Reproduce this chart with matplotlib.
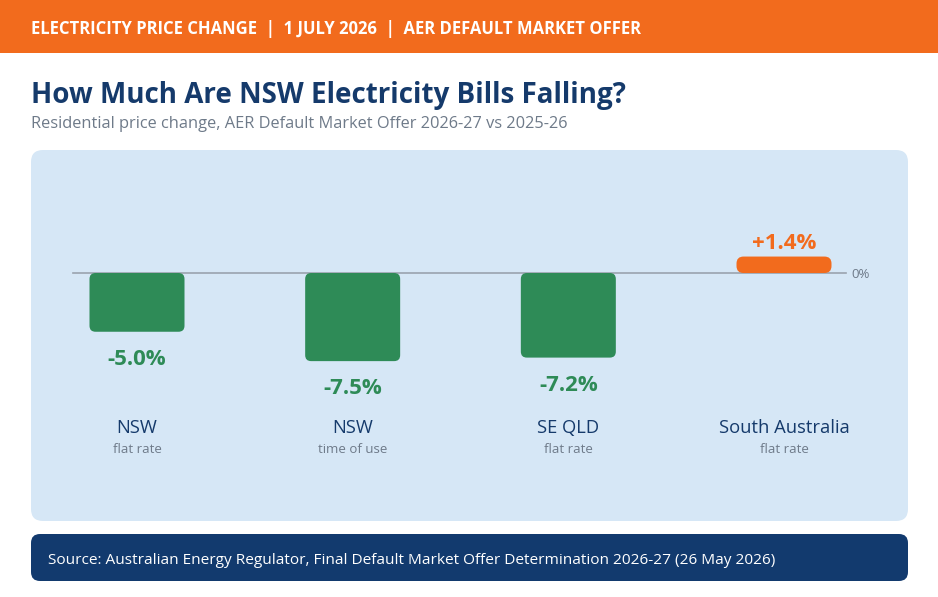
import numpy as np
import matplotlib
matplotlib.use('Agg')
import matplotlib.pyplot as plt
from matplotlib.patches import FancyBboxPatch, Rectangle
import matplotlib.transforms as mtransforms

# data
regions = ['NSW', 'NSW', 'SE QLD', 'South Australia']
tariffs = ['flat rate', 'time of use', 'flat rate', 'flat rate']
change = [-5.0, -7.5, -7.2, 1.4]
labels = ['-5.0%', '-7.5%', '-7.2%', '+1.4%']

ORANGE = '#F26B1D'
NAVY = '#153A6B'
GREEN = '#2E8B57'
PANEL = '#D6E7F6'
GREY = '#6E7A89'
LINE = '#9AA3AE'

plt.rcParams['font.family'] = ['Open Sans', 'DejaVu Sans']

W, H = 938, 597
fig = plt.figure(figsize=(W / 100, H / 100), dpi=100)
fig.patch.set_facecolor('white')

# background layer in pixel units
bg = fig.add_axes([0, 0, 1, 1], zorder=0)
bg.set_xlim(0, W)
bg.set_ylim(H, 0)
bg.axis('off')

bg.add_patch(Rectangle((0, 0), W, 53, color=ORANGE, lw=0))
bg.text(31, 29, 'ELECTRICITY PRICE CHANGE  |  1 JULY 2026  |  AER DEFAULT MARKET OFFER',
        color='white', fontsize=12, fontweight='bold', va='center', ha='left')
bg.text(31, 96, 'How Much Are NSW Electricity Bills Falling?', color=NAVY,
        fontsize=20, fontweight='bold', va='center', ha='left')
bg.text(31, 124, 'Residential price change, AER Default Market Offer 2026-27 vs 2025-26',
        color=GREY, fontsize=11.8, va='center', ha='left')

bg.add_patch(FancyBboxPatch((31, 150), 877, 371, boxstyle='round,pad=0,rounding_size=12',
                            fc=PANEL, ec='none'))
bg.add_patch(FancyBboxPatch((31, 534), 877, 47, boxstyle='round,pad=0,rounding_size=9',
                            fc='#123A6E', ec='none'))
bg.text(48, 560, 'Source: Australian Energy Regulator, Final Default Market Offer Determination 2026-27 (26 May 2026)',
        color='white', fontsize=11.05, va='center', ha='left')

# chart layer
px_x = 215.67   # px per category
px_y = 11.75    # px per percent
ax = fig.add_axes([31 / W, (H - 521) / H, 877 / W, 371 / H], zorder=1)
ax.patch.set_alpha(0)
ax.axis('off')
ax.set_xlim(-(137 - 31) / px_x, 3 + (908 - 784) / px_x)
ax.set_ylim(-(521 - 273) / px_y, (273 - 150) / px_y)

x = np.arange(len(change))
ax.plot([-(137 - 73) / px_x, 3 + (846 - 784) / px_x], [0, 0], color=LINE, lw=1.2, zorder=1)
ax.text(3 + (851 - 784) / px_x, -0.1, '0%', color=GREY, fontsize=9.5, va='center', ha='left')

bw = 95 / px_x
for xi, v, lab in zip(x, change, labels):
    col = GREEN if v < 0 else ORANGE
    r = 6 / px_x if v < 0 else 7 / px_x
    ax.add_patch(FancyBboxPatch((xi - bw / 2, min(0, v)), bw, abs(v),
                                boxstyle='round,pad=0,rounding_size=%f' % r,
                                mutation_aspect=px_x / px_y, fc=col, ec='none', zorder=2))
    if v < 0:
        ax.annotate(lab, (xi, v), xytext=(0, -20), textcoords='offset points',
                    ha='center', va='center', color=col, fontsize=16, fontweight='bold')
    else:
        ax.annotate(lab, (xi, v), xytext=(0, 9.5), textcoords='offset points',
                    ha='center', va='center', color=col, fontsize=16, fontweight='bold')

trans = mtransforms.blended_transform_factory(ax.transData, ax.transAxes)
for xi, reg, tar in zip(x, regions, tariffs):
    ax.text(xi, (521 - 428) / 371, reg, transform=trans, ha='center', va='center',
            color=NAVY, fontsize=13.2)
    ax.text(xi, (521 - 449.5) / 371, tar, transform=trans, ha='center', va='center',
            color=GREY, fontsize=9.5)

plt.savefig('out.png', dpi=100)
